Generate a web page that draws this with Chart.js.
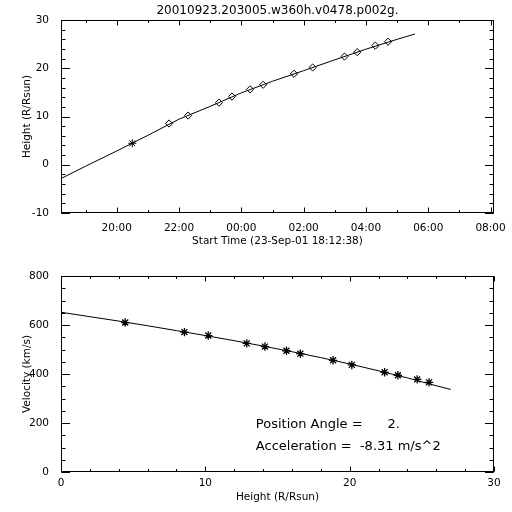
<!DOCTYPE html>
<html><head><meta charset="utf-8">
<script src="https://cdn.jsdelivr.net/npm/chart.js@4.4.0/dist/chart.umd.min.js"></script>
<style>
html,body{margin:0;padding:0;background:#fff;}
#wrap{position:relative;width:512px;height:512px;background:#fff;}
canvas{position:absolute;left:0;}
#c1{top:0;} #c2{top:256px;}
</style></head><body>
<div id="wrap"><canvas id="c1" width="512" height="256"></canvas><canvas id="c2" width="512" height="256"></canvas></div>
<script>
// ---- data ----
const TITLE = '20010923.203005.w360h.v0478.p002g.';
const TIME_AXIS_TITLE = 'Start Time (23-Sep-01 18:12:38)';
const START_HOUR = 18 + 12/60 + 38/3600;
const END_HOUR = 32.11;
// observation times in hours from 23-Sep-01 00:00
const obsTimes = [20.50, 21.68, 22.29, 23.28, 23.70, 24.28, 24.70, 25.69, 26.29, 27.31, 27.72, 28.30, 28.71];
const obsHeights = [4.45, 8.55, 10.2, 12.87, 14.13, 15.62, 16.58, 18.85, 20.15, 22.42, 23.34, 24.68, 25.5];
const obsVelocities = [610, 571, 557, 525, 512, 495, 483, 456, 437, 407, 395, 378, 366];
const fitTimes = [18.21, 19, 20, 21, 22, 23, 24, 25, 26, 27, 28, 29, 29.575];
const fitHeights = [-2.87, -0.3, 2.85, 6.1, 9.45, 12.1, 14.9, 17.3, 19.5, 21.75, 23.95, 26.0, 27.1];
const fitVelHeights = [0, 2, 4, 6, 8, 10, 12, 14, 16, 18, 20, 22, 24, 26, 27];
const fitVelocities = [652, 634, 616, 597, 577, 557, 536, 514, 491, 467, 441, 413, 384, 352, 337];
const timeTickValues = [20, 22, 24, 26, 28, 30, 32];
const timeTickLabels = ['20:00', '22:00', '00:00', '02:00', '04:00', '06:00', '08:00'];
const heightTicks = [-10, 0, 10, 20, 30];
const velocityTicks = [0, 200, 400, 600, 800];
const heightAxisTicks = [0, 10, 20, 30];
const annotationLines = ['Position Angle =      2.', 'Acceleration =  -8.31 m/s^2'];
const annotationX = 13.5;
const annotationY = [192, 103];

// ---- style ----
const FONT = 'DejaVu Sans';
Chart.defaults.font.family = FONT;
Chart.defaults.color = '#000';
Chart.defaults.animation = false;

const inwardTicks = {
  id: 'inwardTicks',
  afterDraw(chart, args, o) {
    const {ctx, chartArea: a} = chart;
    const xs = chart.scales.x, ys = chart.scales.y;
    const L = Math.round(a.left) + 0.5, R = Math.round(a.right) - 0.5;
    const T = Math.round(a.top) + 0.5, B = Math.round(a.bottom) - 0.5;
    ctx.save();
    ctx.strokeStyle = '#000';
    ctx.lineWidth = 1;
    ctx.strokeRect(L, T, R - L, B - T);
    ctx.beginPath();
    const xTick = (v, len) => {
      const p = Math.round(xs.getPixelForValue(v)) + 0.5;
      ctx.moveTo(p, B); ctx.lineTo(p, B - len);
      ctx.moveTo(p, T); ctx.lineTo(p, T + len);
    };
    const yTick = (v, len) => {
      const p = Math.round(ys.getPixelForValue(v)) + 0.5;
      ctx.moveTo(L, p); ctx.lineTo(L + len, p);
      ctx.moveTo(R, p); ctx.lineTo(R - len, p);
    };
    for (let v = Math.ceil(xs.min / o.xMinor) * o.xMinor; v <= xs.max + 1e-9; v += o.xMinor) xTick(v, o.xMinorLen);
    for (let v = Math.ceil(ys.min / o.yMinor) * o.yMinor; v <= ys.max + 1e-9; v += o.yMinor) yTick(v, o.yMinorLen);
    xs.ticks.forEach(t => xTick(t.value, o.xMajorLen));
    ys.ticks.forEach(t => yTick(t.value, o.yMajorLen));
    ctx.stroke();
    ctx.restore();
  }
};

const annotate = {
  id: 'annotate',
  afterDraw(chart, args, o) {
    if (!o.lines) return;
    const {ctx} = chart;
    ctx.save();
    ctx.fillStyle = '#000';
    ctx.font = o.size + 'px "' + FONT + '"';
    ctx.textAlign = 'left';
    ctx.textBaseline = 'middle';
    const x = chart.scales.x.getPixelForValue(o.x);
    o.lines.forEach((s, i) => ctx.fillText(s, x, chart.scales.y.getPixelForValue(o.ys[i])));
    ctx.restore();
  }
};

function fixed(w, h) {
  return function(scale) {
    if (w != null) scale.width = w;
    if (h != null) scale.height = h;
  };
}
const setTicks = vals => scale => { scale.ticks = vals.map(v => ({value: v})); };

const tickFont = {size: 10.5};
const titleFont = {size: 10.5};

// ---- chart 1: height vs time ----
new Chart(document.getElementById('c1'), {
  type: 'scatter',
  data: {
    datasets: [
      {
        type: 'line',
        data: fitTimes.map((t, i) => ({x: t, y: fitHeights[i]})),
        borderColor: '#000', borderWidth: 1, pointRadius: 0, fill: false, tension: 0
      },
      {
        data: obsTimes.map((t, i) => ({x: t, y: obsHeights[i]})),
        pointStyle: ctx => ctx.dataIndex === 0 ? 'star' : 'rectRot',
        pointRadius: ctx => ctx.dataIndex === 0 ? 4 : 3.6,
        backgroundColor: '#fff', borderColor: '#000', borderWidth: 1
      }
    ]
  },
  options: {
    responsive: false,
    events: [],
    layout: {padding: {left: 0, right: 18, top: 0, bottom: 0}},
    plugins: {
      legend: {display: false},
      tooltip: {enabled: false},
      title: {display: true, text: TITLE, fullSize: false, color: '#000',
        font: {size: 12, weight: 'normal'}, padding: {top: 3.6, bottom: 2}},
      inwardTicks: {xMinor: 1, yMinor: 2, xMajorLen: 5, xMinorLen: 2.5, yMajorLen: 8.5, yMinorLen: 4}
    },
    scales: {
      x: {
        type: 'linear', min: START_HOUR, max: END_HOUR,
        afterBuildTicks: setTicks(timeTickValues),
        afterFit: fixed(null, 43),
        grid: {display: false}, border: {display: false},
        ticks: {font: tickFont, padding: 1, maxRotation: 0, autoSkip: false,
          callback: (v, i) => timeTickLabels[i]},
        title: {display: true, text: TIME_AXIS_TITLE, font: titleFont, padding: {top: 0, bottom: 8.5}}
      },
      y: {
        type: 'linear', min: -10, max: 30,
        afterBuildTicks: setTicks(heightTicks),
        afterFit: fixed(61, null),
        grid: {display: false}, border: {display: false},
        ticks: {font: tickFont, padding: 4},
        title: {display: true, text: 'Height (R/Rsun)', font: titleFont, padding: {top: 20.5, bottom: 0}}
      }
    }
  },
  plugins: [inwardTicks]
});

// ---- chart 2: velocity vs height ----
new Chart(document.getElementById('c2'), {
  type: 'scatter',
  data: {
    datasets: [
      {
        type: 'line',
        data: fitVelHeights.map((h, i) => ({x: h, y: fitVelocities[i]})),
        borderColor: '#000', borderWidth: 1, pointRadius: 0, fill: false, tension: 0
      },
      {
        data: obsHeights.map((h, i) => ({x: h, y: obsVelocities[i]})),
        pointStyle: 'star', pointRadius: 4.2,
        backgroundColor: '#000', borderColor: '#000', borderWidth: 1.3
      }
    ]
  },
  options: {
    responsive: false,
    events: [],
    layout: {padding: {left: 0, right: 18, top: 20, bottom: 0}},
    plugins: {
      legend: {display: false},
      tooltip: {enabled: false},
      inwardTicks: {xMinor: 2, yMinor: 50, xMajorLen: 5, xMinorLen: 2.5, yMajorLen: 8.5, yMinorLen: 4},
      annotate: {lines: annotationLines, x: annotationX, ys: annotationY, size: 13}
    },
    scales: {
      x: {
        type: 'linear', min: 0, max: 30,
        afterBuildTicks: setTicks(heightAxisTicks),
        afterFit: fixed(null, 40),
        grid: {display: false}, border: {display: false},
        ticks: {font: tickFont, padding: -3, maxRotation: 0, autoSkip: false},
        title: {display: true, text: 'Height (R/Rsun)', font: titleFont, padding: {top: 0, bottom: 8}}
      },
      y: {
        type: 'linear', min: 0, max: 800,
        afterBuildTicks: setTicks(velocityTicks),
        afterFit: fixed(61, null),
        grid: {display: false}, border: {display: false},
        ticks: {font: tickFont, padding: 4},
        title: {display: true, text: 'Velocity (km/s)', font: titleFont, padding: {top: 20.5, bottom: 0}}
      }
    }
  },
  plugins: [inwardTicks, annotate]
});
</script>
</body></html>
